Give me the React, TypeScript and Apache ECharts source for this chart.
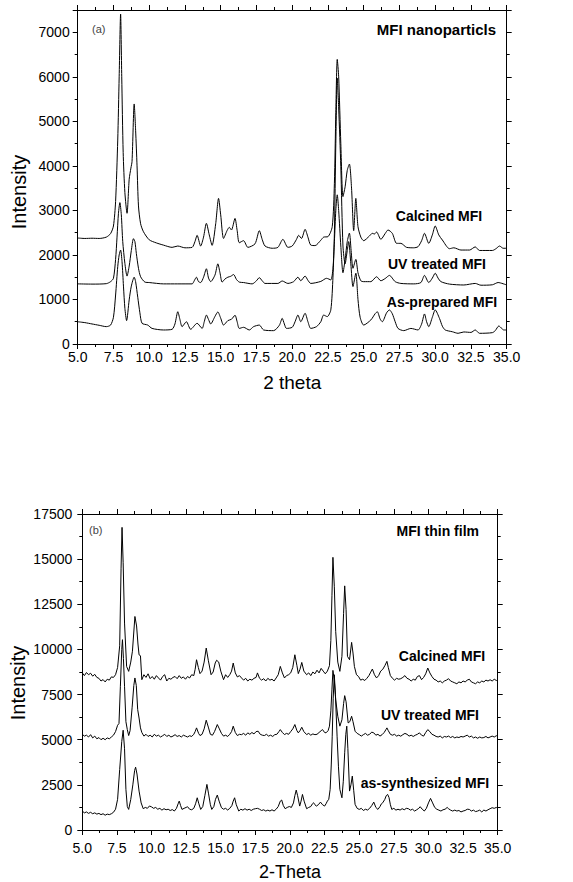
import React, { useEffect, useRef } from "react";
import * as echarts from "echarts";

// ---------- Data ----------
const xTicksTop = [5, 35, 2.5];
const yTicksTop = [0, 7500, 1000];
const xTicksBottom = [5, 35, 2.5];
const yTicksBottom = [0, 17500, 2500];

// (a) MFI nanoparticles
const calcinedA: number[][] = [
  [5.0,2380],[5.5,2370],[6.0,2375],[6.5,2370],[7.0,2400],[7.3,2480],[7.5,2650],[7.65,3200],[7.8,4580],[7.9,6000],[8.0,7410],[8.08,6000],[8.18,4300],[8.3,3400],[8.45,2935],[8.6,3700],[8.72,3950],[8.8,4100],[8.95,5390],[9.05,4800],[9.15,4000],[9.25,3100],[9.4,2700],[9.6,2520],[10.0,2340],[10.5,2270],[11.0,2220],[11.6,2170],[12.0,2200],[12.5,2160],[13.0,2170],[13.2,2300],[13.35,2440],[13.6,2200],[13.8,2400],[14.0,2710],[14.2,2450],[14.4,2215],[14.65,2700],[14.85,3270],[15.0,2900],[15.2,2370],[15.45,2550],[15.6,2620],[15.75,2560],[16.0,2820],[16.15,2550],[16.3,2275],[16.6,2320],[16.9,2170],[17.4,2250],[17.7,2545],[17.9,2350],[18.1,2200],[18.6,2150],[19.0,2170],[19.35,2350],[19.7,2170],[20.0,2200],[20.3,2350],[20.45,2440],[20.65,2370],[20.9,2575],[21.1,2400],[21.3,2220],[21.6,2210],[22.0,2330],[22.2,2400],[22.5,2410],[22.8,2635],[22.95,3600],[23.05,5200],[23.15,6390],[23.25,6000],[23.4,4500],[23.55,3310],[23.7,3530],[23.85,3900],[24.0,4040],[24.15,3500],[24.3,2545],[24.45,3270],[24.6,2635],[24.8,2400],[25.0,2320],[25.4,2425],[25.6,2485],[25.75,2470],[25.9,2515],[26.2,2350],[26.5,2480],[26.7,2560],[27.0,2485],[27.3,2260],[27.6,2260],[28.0,2170],[28.5,2160],[28.8,2185],[29.05,2320],[29.25,2485],[29.55,2260],[29.8,2450],[30.0,2650],[30.25,2450],[30.5,2335],[31.0,2140],[31.3,2160],[31.8,2110],[32.4,2110],[32.8,2180],[33.1,2100],[34.0,2100],[34.25,2140],[34.5,2200],[34.75,2150],[35.0,2150]
];
const uvA: number[][] = [
  [5.0,1350],[6.0,1345],[7.0,1355],[7.3,1400],[7.5,1475],[7.65,1900],[7.75,2400],[7.85,2935],[7.95,3175],[8.05,2900],[8.15,2300],[8.3,1810],[8.45,1525],[8.6,1750],[8.75,2100],[8.9,2365],[9.0,2300],[9.1,2035],[9.25,1700],[9.4,1510],[9.7,1390],[10.0,1380],[11.0,1350],[12.0,1350],[13.0,1350],[13.15,1420],[13.3,1500],[13.45,1400],[13.6,1380],[13.8,1500],[14.0,1690],[14.15,1480],[14.3,1400],[14.6,1550],[14.8,1800],[14.95,1600],[15.1,1390],[15.3,1460],[15.5,1500],[15.7,1520],[15.9,1560],[16.1,1450],[16.3,1390],[16.6,1380],[17.2,1350],[17.5,1420],[17.7,1490],[17.9,1420],[18.1,1360],[19.0,1360],[19.3,1415],[19.7,1360],[20.1,1400],[20.4,1500],[20.6,1420],[20.9,1525],[21.1,1430],[21.3,1360],[22.0,1405],[22.4,1475],[22.7,1440],[22.85,1700],[22.95,2300],[23.05,3000],[23.15,3350],[23.25,3000],[23.4,2200],[23.55,1600],[23.7,1900],[23.85,2300],[24.0,2490],[24.12,2100],[24.25,1700],[24.45,1900],[24.6,1600],[24.8,1420],[25.0,1400],[25.5,1400],[25.9,1510],[26.2,1420],[26.5,1470],[26.8,1540],[27.2,1400],[27.6,1360],[28.5,1350],[29.0,1380],[29.25,1540],[29.55,1380],[29.8,1480],[30.0,1590],[30.2,1480],[30.4,1400],[31.0,1345],[32.0,1325],[32.8,1360],[33.2,1320],[34.0,1330],[34.4,1380],[35.0,1325]
];
const asPreparedA: number[][] = [
  [5.0,500],[5.5,480],[6.0,450],[6.5,420],[7.0,390],[7.3,425],[7.5,600],[7.65,1100],[7.8,1740],[7.9,2000],[8.0,2110],[8.1,1850],[8.2,1300],[8.3,800],[8.42,525],[8.6,990],[8.75,1300],[8.95,1500],[9.05,1400],[9.2,1050],[9.35,700],[9.5,465],[9.9,425],[10.2,350],[11.0,315],[11.6,330],[11.8,450],[12.0,725],[12.15,550],[12.3,390],[12.6,500],[12.9,330],[13.35,465],[13.7,350],[13.85,500],[14.0,650],[14.15,550],[14.3,450],[14.6,620],[14.8,720],[15.0,580],[15.2,425],[15.5,525],[15.75,555],[16.0,645],[16.15,500],[16.3,350],[16.6,375],[17.0,315],[17.3,390],[17.7,425],[18.0,315],[18.7,300],[19.1,420],[19.3,575],[19.45,450],[19.6,350],[20.0,375],[20.2,500],[20.4,650],[20.6,500],[20.9,690],[21.1,500],[21.3,350],[21.7,390],[22.0,500],[22.2,650],[22.45,615],[22.7,765],[22.85,1500],[22.95,2485],[23.05,4500],[23.15,5970],[23.25,5300],[23.4,3980],[23.55,2200],[23.7,1800],[23.85,2100],[23.95,2300],[24.1,1800],[24.25,1290],[24.45,1590],[24.6,1000],[24.75,600],[25.0,425],[25.5,540],[25.8,680],[25.95,725],[26.15,560],[26.3,500],[26.6,700],[26.8,765],[27.0,680],[27.2,500],[27.4,350],[27.8,300],[28.3,350],[28.8,315],[29.05,450],[29.25,675],[29.4,500],[29.55,390],[29.8,600],[30.0,765],[30.3,575],[30.5,400],[30.7,315],[31.2,275],[31.6,240],[32.0,270],[32.5,260],[32.8,315],[33.1,240],[34.0,255],[34.2,300],[34.45,405],[34.65,350],[34.8,315],[35.0,315]
];

// (b) MFI thin film
const calcinedB: number[][] = [
  [5.0,8700],[5.15,8550],[5.3,8720],[5.45,8600],[5.6,8680],[5.75,8520],[5.9,8620],[6.05,8450],[6.2,8400],[6.35,8250],[6.5,8330],[6.65,8200],[6.8,8350],[6.95,8300],[7.1,8480],[7.25,8450],[7.4,8600],[7.55,9000],[7.7,10200],[7.8,14500],[7.87,16760],[7.95,14800],[8.05,11460],[8.2,9060],[8.35,8785],[8.5,9300],[8.62,9900],[8.8,11825],[8.92,11300],[9.02,10300],[9.1,9700],[9.2,9650],[9.3,8325],[9.45,8600],[9.6,8450],[9.75,8650],[9.9,8380],[10.05,8500],[10.2,8350],[10.35,8550],[10.5,8420],[10.65,8300],[10.8,8500],[10.95,8600],[11.1,8250],[11.25,8400],[11.4,8350],[11.55,8450],[11.7,8500],[11.85,8380],[12.0,8550],[12.15,8400],[12.3,8480],[12.45,8350],[12.6,8500],[12.75,8420],[12.9,8600],[13.05,8550],[13.15,8900],[13.25,9430],[13.38,9000],[13.5,8660],[13.65,8800],[13.8,9300],[13.95,10075],[14.1,9400],[14.3,8600],[14.45,8750],[14.6,9250],[14.7,9400],[14.85,9300],[15.0,8800],[15.2,8325],[15.35,8600],[15.5,8450],[15.65,8600],[15.78,8800],[15.9,9245],[16.05,8700],[16.2,8475],[16.35,8550],[16.5,8420],[16.65,8300],[16.8,8400],[16.95,8250],[17.1,8350],[17.25,8300],[17.4,8400],[17.55,8450],[17.65,8700],[17.8,8400],[17.95,8300],[18.1,8380],[18.25,8250],[18.4,8400],[18.55,8300],[18.7,8350],[18.85,8250],[19.0,8420],[19.15,8600],[19.3,9060],[19.45,8700],[19.6,8420],[19.75,8550],[19.9,8600],[20.05,8700],[20.2,9000],[20.35,9705],[20.5,9100],[20.6,8660],[20.72,8900],[20.85,9280],[21.0,8800],[21.2,8600],[21.35,8700],[21.5,8550],[21.65,8750],[21.8,8650],[21.95,8850],[22.1,8700],[22.25,8950],[22.4,8800],[22.55,8650],[22.7,8800],[22.85,9100],[22.95,10500],[23.03,13000],[23.1,15100],[23.2,13500],[23.3,11000],[23.45,9300],[23.6,8785],[23.75,9615],[23.87,12000],[23.95,13520],[24.05,12200],[24.15,9615],[24.3,9430],[24.45,10390],[24.55,9800],[24.65,9060],[24.8,8600],[24.95,8500],[25.1,8300],[25.25,8350],[25.4,8280],[25.55,8400],[25.7,8550],[25.8,8700],[25.95,8915],[26.1,8600],[26.25,8420],[26.4,8550],[26.55,8800],[26.7,8900],[26.85,9100],[27.0,9340],[27.1,9000],[27.25,8550],[27.4,8400],[27.55,8300],[27.7,8400],[27.85,8350],[28.0,8380],[28.15,8450],[28.3,8550],[28.45,8400],[28.6,8350],[28.75,8250],[28.9,8350],[29.05,8300],[29.2,8500],[29.35,8550],[29.5,8325],[29.65,8450],[29.8,8650],[29.95,8970],[30.1,8700],[30.25,8500],[30.4,8350],[30.55,8300],[30.7,8200],[30.85,8250],[31.0,8150],[31.15,8250],[31.3,8300],[31.45,8380],[31.6,8250],[31.75,8200],[31.9,8150],[32.05,8100],[32.2,8200],[32.35,8150],[32.5,8250],[32.65,8200],[32.8,8300],[32.95,8350],[33.1,8200],[33.25,8150],[33.4,8100],[33.55,8200],[33.7,8150],[33.85,8250],[34.0,8200],[34.15,8300],[34.3,8250],[34.45,8320],[34.6,8250],[34.75,8350],[34.9,8280],[35.0,8300]
];
const uvB: number[][] = [
  [5.0,5300],[5.15,5200],[5.3,5250],[5.45,5150],[5.6,5280],[5.75,5100],[5.9,5200],[6.05,5050],[6.2,5120],[6.35,5000],[6.5,5080],[6.65,5000],[6.8,5100],[6.95,5050],[7.1,5150],[7.25,5250],[7.4,5450],[7.55,5800],[7.65,5900],[7.75,7960],[7.85,10000],[7.9,10540],[7.97,9500],[8.05,7960],[8.15,6000],[8.25,5560],[8.35,5230],[8.45,5500],[8.6,6800],[8.72,8000],[8.8,8420],[8.9,8000],[9.0,6670],[9.1,6200],[9.2,5655],[9.3,5400],[9.45,5200],[9.6,5300],[9.75,5180],[9.9,5250],[10.05,5150],[10.2,5300],[10.35,5200],[10.5,5250],[10.65,5150],[10.8,5220],[10.95,5300],[11.1,5180],[11.25,5250],[11.4,5150],[11.55,5200],[11.7,5280],[11.85,5180],[12.0,5230],[12.15,5150],[12.3,5250],[12.45,5200],[12.6,5150],[12.75,5220],[12.9,5180],[13.05,5300],[13.15,5450],[13.25,5655],[13.4,5350],[13.5,5230],[13.65,5300],[13.8,5600],[13.95,6080],[14.1,5700],[14.25,5300],[14.4,5250],[14.55,5450],[14.75,5840],[14.9,5600],[15.05,5350],[15.2,5200],[15.35,5250],[15.5,5180],[15.65,5300],[15.78,5450],[15.9,5750],[16.05,5400],[16.2,5230],[16.35,5300],[16.5,5280],[16.65,5350],[16.8,5250],[16.95,5380],[17.1,5300],[17.25,5400],[17.4,5320],[17.55,5450],[17.7,5470],[17.85,5300],[18.0,5250],[18.15,5230],[18.3,5300],[18.45,5200],[18.6,5250],[18.75,5180],[18.9,5280],[19.05,5300],[19.2,5450],[19.3,5560],[19.45,5400],[19.6,5285],[19.75,5350],[19.9,5300],[20.05,5450],[20.2,5600],[20.35,5840],[20.5,5500],[20.6,5380],[20.72,5500],[20.85,5690],[21.0,5450],[21.2,5285],[21.35,5350],[21.5,5250],[21.65,5320],[21.8,5280],[21.95,5300],[22.1,5400],[22.25,5500],[22.35,5560],[22.5,5400],[22.6,5380],[22.75,5500],[22.85,5750],[22.95,6600],[23.03,7800],[23.1,8840],[23.2,8300],[23.3,7220],[23.45,6300],[23.6,5750],[23.75,6100],[23.87,7000],[23.95,7440],[24.05,7100],[24.2,5930],[24.32,6000],[24.45,6300],[24.55,6000],[24.7,5470],[24.85,5350],[25.0,5285],[25.15,5200],[25.3,5280],[25.45,5350],[25.6,5250],[25.75,5300],[25.9,5420],[26.05,5380],[26.2,5250],[26.35,5300],[26.5,5200],[26.65,5280],[26.8,5400],[26.92,5550],[27.0,5655],[27.1,5500],[27.25,5300],[27.4,5250],[27.55,5300],[27.7,5200],[27.85,5250],[28.0,5195],[28.15,5280],[28.3,5350],[28.45,5300],[28.6,5200],[28.75,5250],[28.9,5180],[29.05,5250],[29.2,5300],[29.35,5380],[29.5,5250],[29.65,5200],[29.8,5400],[29.95,5560],[30.1,5450],[30.25,5300],[30.4,5250],[30.55,5180],[30.7,5150],[30.85,5200],[31.0,5100],[31.15,5180],[31.3,5150],[31.45,5200],[31.6,5120],[31.75,5180],[31.9,5100],[32.05,5150],[32.2,5120],[32.35,5180],[32.5,5150],[32.65,5200],[32.8,5250],[32.95,5150],[33.1,5200],[33.25,5100],[33.4,5150],[33.55,5080],[33.7,5150],[33.85,5100],[34.0,5120],[34.15,5180],[34.3,5100],[34.45,5150],[34.6,5200],[34.75,5150],[34.9,5220],[35.0,5200]
];
const asSynthB: number[][] = [
  [5.0,1050],[5.15,950],[5.3,1000],[5.45,920],[5.6,980],[5.75,900],[5.9,950],[6.05,880],[6.2,920],[6.35,850],[6.5,900],[6.65,820],[6.8,880],[6.95,850],[7.1,900],[7.25,980],[7.4,1150],[7.55,1700],[7.7,3350],[7.85,4900],[7.95,5525],[8.05,4500],[8.15,2250],[8.25,1300],[8.35,1140],[8.5,1695],[8.65,2500],[8.78,3300],[8.85,3480],[8.95,3100],[9.1,2155],[9.25,1500],[9.4,1180],[9.55,1250],[9.7,1200],[9.85,1330],[10.0,1280],[10.15,1200],[10.3,1250],[10.45,1150],[10.6,1200],[10.75,1100],[10.9,1180],[11.05,1120],[11.2,1150],[11.35,1080],[11.5,1130],[11.65,1050],[11.8,1200],[11.92,1450],[12.0,1600],[12.1,1350],[12.2,1140],[12.35,1200],[12.5,1250],[12.6,1290],[12.75,1150],[12.9,1120],[13.05,1200],[13.18,1450],[13.3,1785],[13.42,1450],[13.55,1140],[13.7,1300],[13.85,1900],[14.0,2525],[14.12,2000],[14.25,1400],[14.35,1140],[14.5,1300],[14.62,1700],[14.75,1935],[14.88,1600],[15.05,1235],[15.2,1150],[15.35,1200],[15.5,1105],[15.65,1200],[15.8,1350],[15.9,1600],[16.0,1785],[16.12,1400],[16.3,1050],[16.45,1150],[16.6,1100],[16.75,1180],[16.9,1100],[17.05,1150],[17.2,1080],[17.35,1150],[17.5,1180],[17.65,1200],[17.8,1150],[17.95,1080],[18.1,1120],[18.25,1050],[18.4,1100],[18.55,1050],[18.7,1120],[18.85,1050],[19.0,1150],[19.15,1300],[19.3,1600],[19.4,1660],[19.52,1350],[19.65,1180],[19.8,1250],[19.95,1300],[20.1,1250],[20.25,1500],[20.35,1900],[20.45,2210],[20.55,1900],[20.7,1325],[20.8,1600],[20.9,1970],[21.02,1600],[21.2,1180],[21.35,1250],[21.5,1300],[21.62,1450],[21.7,1510],[21.8,1400],[21.9,1325],[22.05,1400],[22.2,1545],[22.35,1400],[22.5,1325],[22.6,1450],[22.7,1600],[22.8,1700],[22.9,2250],[22.98,3600],[23.05,5195],[23.12,7300],[23.2,8600],[23.28,7500],[23.4,5195],[23.5,3500],[23.6,2250],[23.75,1785],[23.85,2700],[23.95,4275],[24.03,5300],[24.1,5750],[24.18,4500],[24.3,2155],[24.4,2500],[24.5,2985],[24.6,2200],[24.7,1420],[24.85,1200],[25.0,1140],[25.15,1200],[25.3,1080],[25.45,1150],[25.6,1105],[25.75,1200],[25.9,1350],[26.05,1545],[26.2,1250],[26.35,1140],[26.5,1300],[26.6,1450],[26.7,1510],[26.85,1700],[26.95,1900],[27.05,1970],[27.15,1800],[27.25,1400],[27.35,1140],[27.5,1200],[27.65,1100],[27.8,1150],[27.95,1105],[28.1,1180],[28.25,1120],[28.4,1200],[28.55,1180],[28.7,1100],[28.85,1150],[29.0,1050],[29.15,1120],[29.3,1200],[29.4,1290],[29.55,1150],[29.7,1050],[29.85,1200],[30.0,1500],[30.15,1750],[30.3,1500],[30.45,1250],[30.6,1150],[30.75,1100],[30.9,1050],[31.05,1120],[31.2,1150],[31.35,1250],[31.45,1180],[31.6,1100],[31.75,1050],[31.9,1100],[32.05,1050],[32.2,1080],[32.35,1000],[32.5,1050],[32.65,1080],[32.8,1150],[32.95,1140],[33.1,1050],[33.25,1100],[33.4,1020],[33.55,1050],[33.7,1100],[33.85,1000],[34.0,1105],[34.15,1050],[34.3,1120],[34.45,1180],[34.6,1235],[34.75,1200],[34.9,1250],[35.0,1180]
];

const FONT = "'Liberation Sans', Arial, sans-serif";

function axisBase(extra: any) {
  return {
    axisLine: { show: true, onZero: false, lineStyle: { color: "#000", width: 1 } },
    axisTick: { show: true, length: 5, lineStyle: { color: "#000", width: 1 } },
    minorTick: { show: true, splitNumber: 2, length: 3, lineStyle: { color: "#000", width: 1 } },
    splitLine: { show: false },
    minorSplitLine: { show: false },
    ...extra,
  };
}

function lineSeries(data: number[][], xi: number, yi: number, smooth: number | boolean) {
  return {
    type: "line",
    data,
    xAxisIndex: xi,
    yAxisIndex: yi,
    showSymbol: false,
    symbol: "none",
    smooth,
    silent: true,
    lineStyle: { color: "#000", width: 1 },
  };
}

function txt(text: string, x: number, y: number, size: number, bold: boolean, align: string, color = "#000", rotation = 0) {
  return {
    type: "text",
    x,
    y,
    rotation,
    silent: true,
    style: {
      text,
      fill: color,
      font: `${bold ? "bold " : ""}${size}px ${FONT}`,
      textAlign: align,
      align,
      textVerticalAlign: "middle",
      verticalAlign: "middle",
    },
  };
}

const plain = (v: number) => String(v);
const oneDec = (v: number) => v.toFixed(1);

export default function App() {
  const ref = useRef<HTMLDivElement>(null);
  useEffect(() => {
    if (!ref.current) return;
    const chart = echarts.init(ref.current, undefined, { renderer: "svg" });
    const labelTop = { color: "#000", fontSize: 14, fontFamily: FONT };
    const labelBot = { color: "#000", fontSize: 14, fontFamily: FONT };
    const option: any = {
      animation: false,
      backgroundColor: "#fff",
      grid: [
        { left: 77.7, right: 66.3, top: 10, bottom: 538, containLabel: false },
        { left: 82.3, right: 75.3, top: 514, bottom: 51.3, containLabel: false },
      ],
      xAxis: [
        axisBase({
          type: "value", gridIndex: 0, position: "bottom",
          min: xTicksTop[0], max: xTicksTop[1], interval: xTicksTop[2],
          axisLabel: { ...labelTop, margin: 6, formatter: oneDec },
          name: "2 theta", nameLocation: "middle", nameGap: 29,
          nameTextStyle: { color: "#000", fontSize: 19, fontFamily: FONT },
        }),
        axisBase({
          type: "value", gridIndex: 0, position: "top",
          min: xTicksTop[0], max: xTicksTop[1], interval: xTicksTop[2],
          axisLabel: { show: false },
        }),
        axisBase({
          type: "value", gridIndex: 1, position: "bottom",
          min: xTicksBottom[0], max: xTicksBottom[1], interval: xTicksBottom[2],
          axisLabel: { ...labelBot, margin: 11, formatter: oneDec },
          name: "2-Theta", nameLocation: "middle", nameGap: 33,
          nameTextStyle: { color: "#000", fontSize: 18, fontFamily: FONT },
        }),
        axisBase({
          type: "value", gridIndex: 1, position: "top",
          min: xTicksBottom[0], max: xTicksBottom[1], interval: xTicksBottom[2],
          axisLabel: { show: false },
        }),
      ],
      yAxis: [
        axisBase({
          type: "value", gridIndex: 0, position: "left",
          min: yTicksTop[0], max: yTicksTop[1], interval: yTicksTop[2],
          axisLabel: { ...labelTop, margin: 8, showMaxLabel: false, formatter: plain },
        }),
        axisBase({
          type: "value", gridIndex: 0, position: "right",
          min: yTicksTop[0], max: yTicksTop[1], interval: yTicksTop[2],
          axisLabel: { show: false },
        }),
        axisBase({
          type: "value", gridIndex: 1, position: "left",
          min: yTicksBottom[0], max: yTicksBottom[1], interval: yTicksBottom[2],
          axisLabel: { ...labelBot, margin: 10, formatter: plain },
        }),
        axisBase({
          type: "value", gridIndex: 1, position: "right",
          min: yTicksBottom[0], max: yTicksBottom[1], interval: yTicksBottom[2],
          axisLabel: { show: false },
        }),
      ],
      series: [
        lineSeries(calcinedA, 0, 0, 0.25),
        lineSeries(uvA, 0, 0, 0.25),
        lineSeries(asPreparedA, 0, 0, 0.25),
        lineSeries(calcinedB, 2, 2, false),
        lineSeries(uvB, 2, 2, false),
        lineSeries(asSynthB, 2, 2, false),
      ],
      graphic: [
        txt("Intensity", 19, 192, 20, false, "center", "#000", Math.PI / 2),
        txt("Intensity", 18, 683, 20, false, "center", "#000", Math.PI / 2),
        txt("(a)", 92, 29, 11, false, "left", "#444"),
        txt("MFI nanoparticls", 496, 29, 15, true, "right"),
        txt("Calcined MFI", 439, 216, 14, true, "center"),
        txt("UV treated MFI", 437, 264, 14, true, "center"),
        txt("As-prepared MFI", 442, 302, 14, true, "center"),
        txt("(b)", 89, 530, 11, false, "left", "#444"),
        txt("MFI thin film", 479, 531, 14, true, "right"),
        txt("Calcined MFI", 442, 656, 14, true, "center"),
        txt("UV treated MFI", 430, 715, 14, true, "center"),
        txt("as-synthesized MFI", 425, 783, 14, true, "center"),
      ],
    };
    chart.setOption(option);
    return () => chart.dispose();
  }, []);
  return (
    <div
      ref={ref}
      style={{ position: "fixed", left: 0, top: 0, width: 573, height: 882, background: "#fff" }}
    />
  );
}
